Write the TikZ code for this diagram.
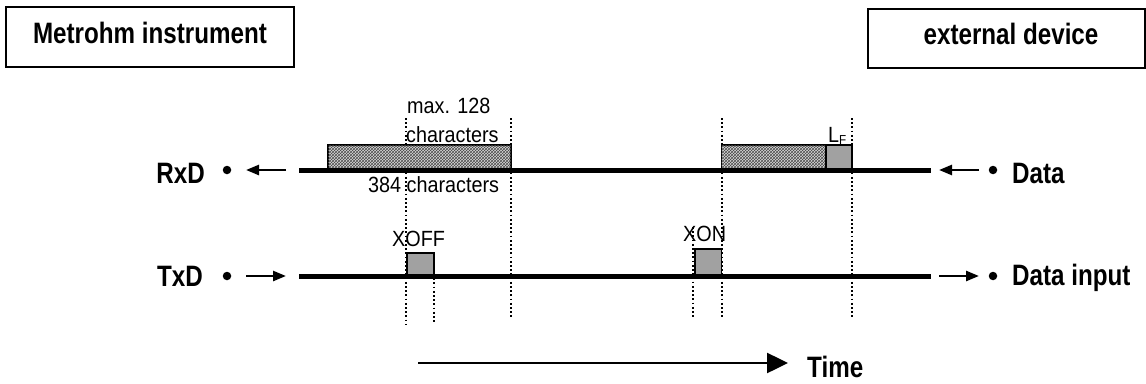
\documentclass[tikz,border=0pt]{standalone}
\usepackage{fontspec}
\setmainfont{Liberation Sans}
\newfontfamily\bn[FakeStretch=0.82]{Liberation Sans}
\newfontfamily\rn[FakeStretch=0.9]{Liberation Sans}
\usetikzlibrary{arrows.meta,patterns}
\tikzset{
  lbl/.style={font=\bn\bfseries\fontsize{29.5}{31}\selectfont, inner sep=0pt},
  reg/.style={font=\rn\fontsize{22}{24}\selectfont, inner sep=0pt},
  headbox/.style={draw, line width=2pt},
  sigline/.style={line width=5pt},
  hatchbox/.style={draw, line width=1.5pt, fill=gray!30, postaction={pattern=crosshatch, pattern color=black!70}},
  graybox/.style={draw, line width=1.5pt, fill=black!37},
  vdot/.style={line width=2pt, dash pattern=on 1.8pt off 2.4pt},
  smallarr/.style={line width=2.5pt, -{Triangle[length=13pt,width=10pt]}},
  timearr/.style={line width=2.5pt, -{Triangle[length=21pt,width=20pt]}},
  pin/.style={circle, fill, inner sep=0pt, minimum size=8.5pt}
}
\begin{document}
\begin{tikzpicture}[x=1pt,y=-1pt]
\useasboundingbox (0,0) rectangle (1146,383);
% header boxes
\draw[headbox] (6,7) rectangle (294,67);
\node[lbl, anchor=base] (metrohm) at (150,43) {Metrohm instrument};
\draw[headbox] (868,9) rectangle (1145,68);
\node[lbl, anchor=base] (extdev) at (1011,44) {external device};
% dotted time markers
\draw[vdot] (406,118) -- (406,325);
\draw[vdot] (434,253) -- (434,323);
\draw[vdot] (511,118) -- (511,319);
\draw[vdot] (693,227) -- (693,319);
\draw[vdot] (721.5,118) -- (721.5,319);
\draw[vdot] (852,118) -- (852,319);
% RxD line
\coordinate (rxA) at (299,170.5);
\coordinate (rxB) at (931,170.5);
\draw[hatchbox] (328,145) rectangle (511,170.5);
\draw[hatchbox] (721.5,145) rectangle (826,170.5);
\draw[graybox] (826,145) rectangle (852,170.5);
\draw[sigline] (rxA) -- (rxB);
% TxD line
\coordinate (txA) at (299,276);
\coordinate (txB) at (931,276);
\draw[graybox] (407,253) rectangle (434,276);
\draw[graybox] (695,249) rectangle (721.5,276);
\draw[sigline] (txA) -- (txB);
% labels on lines
\node[reg, anchor=base west] (max) at (407,113) {max. 128};
\node[reg, anchor=base west] (chars1) at (406,142) {characters};
\node[reg, anchor=base west] (chars2) at (368,192) {384 characters};
\node[reg, anchor=base west] (xoff) at (392,246) {XOFF};
\node[reg, anchor=base west] (xon) at (683,241) {XON};
\node[reg, anchor=base west] (lf) at (828,142) {L\raisebox{-2pt}{\fontsize{13}{13}\selectfont F}};
% left side
\node[lbl, anchor=base east] (rxd) at (205,183) {RxD};
\node[lbl, anchor=base east] (txd) at (203,286) {TxD};
\node[pin] (p1) at (227,170) {};
\node[pin] (p2) at (227,276) {};
\coordinate (a1s) at (286,170);
\coordinate (a1e) at (246,170);
\draw[smallarr] (a1s) -- (a1e);
\coordinate (a2s) at (246,276);
\coordinate (a2e) at (286,276);
\draw[smallarr] (a2s) -- (a2e);
% right side
\node[pin] (p3) at (993,170) {};
\node[pin] (p4) at (993,276) {};
\node[lbl, anchor=base west] (data) at (1012,183) {Data};
\node[lbl, anchor=base west] (datain) at (1012,285) {Data input};
\coordinate (a3s) at (979,170);
\coordinate (a3e) at (939,170);
\draw[smallarr] (a3s) -- (a3e);
\coordinate (a4s) at (939,276);
\coordinate (a4e) at (979,276);
\draw[smallarr] (a4s) -- (a4e);
% time arrow
\coordinate (t0) at (418,363);
\coordinate (t1) at (788,363);
\draw[timearr] (t0) -- (t1);
\node[lbl, anchor=base west] (time) at (807,377) {Time};
\end{tikzpicture}
\end{document}
